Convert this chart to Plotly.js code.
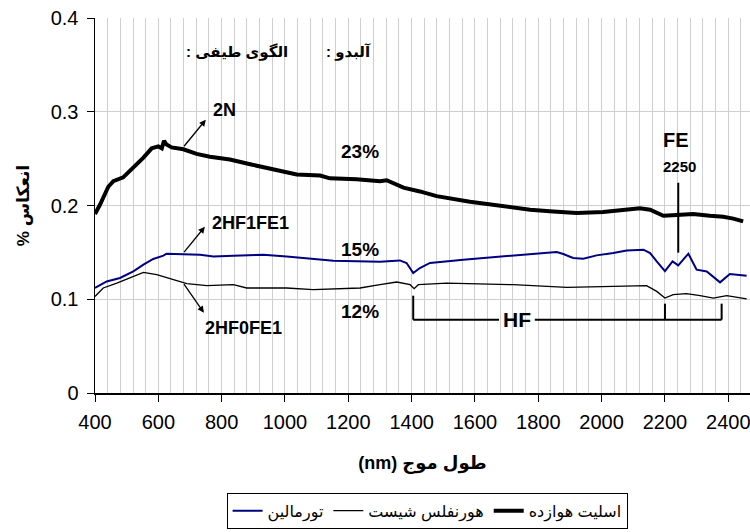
<!DOCTYPE html>
<html>
<head>
<meta charset="utf-8">
<script src="https://cdn.plot.ly/plotly-3.0.1.min.js"></script>
<style>html,body{margin:0;padding:0;background:#fff;}#chart{width:750px;height:532px;}</style>
</head>
<body>
<div id="chart"></div>
<script>
// Series names (legend)
const seriesNames = ["تورمالین", "هورنفلس شیست", "اسلیت هوازده"];

// Tourmaline (blue, 2HF1FE1)
const wlTourmaline = [400,437,479,521,553,584,616,626,732,774,837,932,1005,1089,1153,1300,1363,1384,1405,1426,1458,1563,1669,1774,1858,1879,1910,1942,1984,2037,2079,2132,2153,2174,2200,2224,2242,2274,2300,2332,2374,2405,2437,2458];
const reflTourmaline = [0.112,0.119,0.1227,0.1297,0.1369,0.143,0.1465,0.1486,0.1475,0.1457,0.1465,0.1475,0.1457,0.1433,0.1411,0.1400,0.1414,0.1387,0.128,0.1333,0.1387,0.1422,0.1451,0.1483,0.1504,0.1483,0.144,0.1433,0.1468,0.1493,0.1521,0.1529,0.1493,0.1404,0.1300,0.1404,0.1361,0.1486,0.1315,0.1297,0.118,0.127,0.1262,0.125];

// Hornfels schist (thin black, 2HF0FE1)
const wlHornfels = [400,426,469,511,553,595,647,690,753,837,879,1005,1089,1237,1300,1353,1395,1408,1421,1511,1721,1890,2037,2142,2174,2200,2226,2268,2311,2353,2395,2437,2458];
const reflHornfels = [0.103,0.112,0.1173,0.1227,0.1287,0.1262,0.1209,0.1166,0.1145,0.1155,0.112,0.112,0.1102,0.112,0.1155,0.1184,0.1155,0.1113,0.1155,0.1173,0.1155,0.1127,0.1137,0.1145,0.1084,0.1013,0.1049,0.1059,0.1038,0.1013,0.1038,0.1013,0.1003];

// Weathered slate (thick black, 2N)
const wlSlate = [400,416,442,458,489,521,553,579,600,611,618,626,642,679,721,763,826,890,974,1037,1111,1142,1226,1300,1321,1342,1374,1426,1479,1584,1689,1774,1847,1921,2005,2068,2121,2153,2195,2237,2289,2342,2384,2416,2447];
const reflSlate = [0.191,0.201,0.220,0.226,0.230,0.240,0.251,0.261,0.263,0.261,0.269,0.265,0.262,0.260,0.255,0.252,0.249,0.244,0.238,0.233,0.232,0.229,0.228,0.226,0.227,0.224,0.219,0.215,0.210,0.204,0.199,0.1955,0.1937,0.192,0.193,0.195,0.197,0.1955,0.189,0.190,0.191,0.189,0.188,0.186,0.183];

const FONT = "Liberation Sans, Arial, DejaVu Sans, sans-serif";
const RLE = "\u202B", PDF = "\u202C";

const traces = [
  {x: wlTourmaline, y: reflTourmaline, name: seriesNames[0], mode: "lines", line: {color: "#000080", width: 2}},
  {x: wlHornfels, y: reflHornfels, name: seriesNames[1], mode: "lines", line: {color: "#000000", width: 1.3}},
  {x: wlSlate, y: reflSlate, name: seriesNames[2], mode: "lines", line: {color: "#000000", width: 4}}
];

function txt(x, y, text, size) {
  return {x: x, y: y, xref: "x", yref: "y", text: text, showarrow: false,
          font: {family: FONT, size: size, color: "#000", weight: "bold"}};
}
function arrow(x, y, ax, ay) {
  return {x: x, y: y, xref: "x", yref: "y", ax: ax, ay: ay, text: "", showarrow: true,
          arrowhead: 2, arrowsize: 1, arrowwidth: 1.3, arrowcolor: "#000"};
}
const annotations = [
  txt(848, 0.364, RLE + "الگوی طیفی :" + PDF, 15),
  txt(1202, 0.364, RLE + "آلبدو :" + PDF, 15),
  txt(810, 0.302, "2N", 18),
  txt(892, 0.1817, "2HF1FE1", 18),
  txt(870, 0.0697, "2HF0FE1", 18),
  txt(1237, 0.2574, "23%", 19),
  txt(1237, 0.1529, "15%", 19),
  txt(1237, 0.0867, "12%", 19),
  txt(2235, 0.2702, "FE", 20),
  txt(2247, 0.2414, "2250", 15),
  txt(1732, 0.0782, "HF", 21),
  arrow(750, 0.2915, -23, 28),
  arrow(747, 0.1774, -22, 27),
  arrow(744, 0.0857, -21, -30)
];

function seg(x0, y0, x1, y1) {
  return {type: "line", xref: "x", yref: "y", x0: x0, y0: y0, x1: x1, y1: y1,
          line: {color: "#000", width: 2}};
}
const shapes = [
  seg(2242, 0.1497, 2242, 0.2243),
  seg(1405, 0.1038, 1405, 0.0782),
  seg(2200, 0.0953, 2200, 0.0782),
  seg(2379, 0.0953, 2379, 0.0782),
  seg(1405, 0.0782, 1676, 0.0782),
  seg(1789, 0.0782, 2379, 0.0782)
];

const layout = {
  width: 750, height: 532,
  margin: {l: 95, r: 0, t: 18, b: 139},
  paper_bgcolor: "#fff", plot_bgcolor: "#fff",
  font: {family: FONT, color: "#000"},
  showlegend: true,
  legend: {orientation: "h", x: 0.507, xanchor: "center", y: -0.266, yanchor: "top",
           bordercolor: "#000", borderwidth: 1, font: {family: FONT, size: 16, color: "#000"},
           itemwidth: 30},
  xaxis: {
    range: [400, 2468.6], dtick: 200, tick0: 400,
    showline: true, linecolor: "#000", linewidth: 1.5,
    ticks: "outside", ticklen: 7, tickcolor: "#000", tickwidth: 1,
    ticklabelstandoff: 3, ticklabeloverflow: "allow",
    showgrid: true, gridcolor: "#cfcfcf", gridwidth: 1,
    minor: {dtick: 40, tick0: 400, showgrid: true, gridcolor: "#cfcfcf", gridwidth: 1, ticks: ""},
    zeroline: false,
    tickfont: {family: FONT, size: 20, color: "#000"},
    title: {text: RLE + "طول موج (nm)" + PDF, standoff: 25,
            font: {family: FONT, size: 18, color: "#000", weight: "bold"}}
  },
  yaxis: {
    range: [0, 0.4], dtick: 0.1, tick0: 0,
    showline: true, linecolor: "#000", linewidth: 1.5,
    ticks: "outside", ticklen: 7, tickcolor: "#000", tickwidth: 1,
    ticklabelstandoff: 4,
    showgrid: true, gridcolor: "#cfcfcf", gridwidth: 1,
    zeroline: false,
    tickfont: {family: FONT, size: 20, color: "#000"},
    title: {text: RLE + "انعکاس %" + PDF, standoff: 16,
            font: {family: FONT, size: 17, color: "#000", weight: "bold"}}
  },
  annotations: annotations,
  shapes: shapes
};

Plotly.newPlot("chart", traces, layout, {staticPlot: true, displayModeBar: false});
</script>
</body>
</html>
